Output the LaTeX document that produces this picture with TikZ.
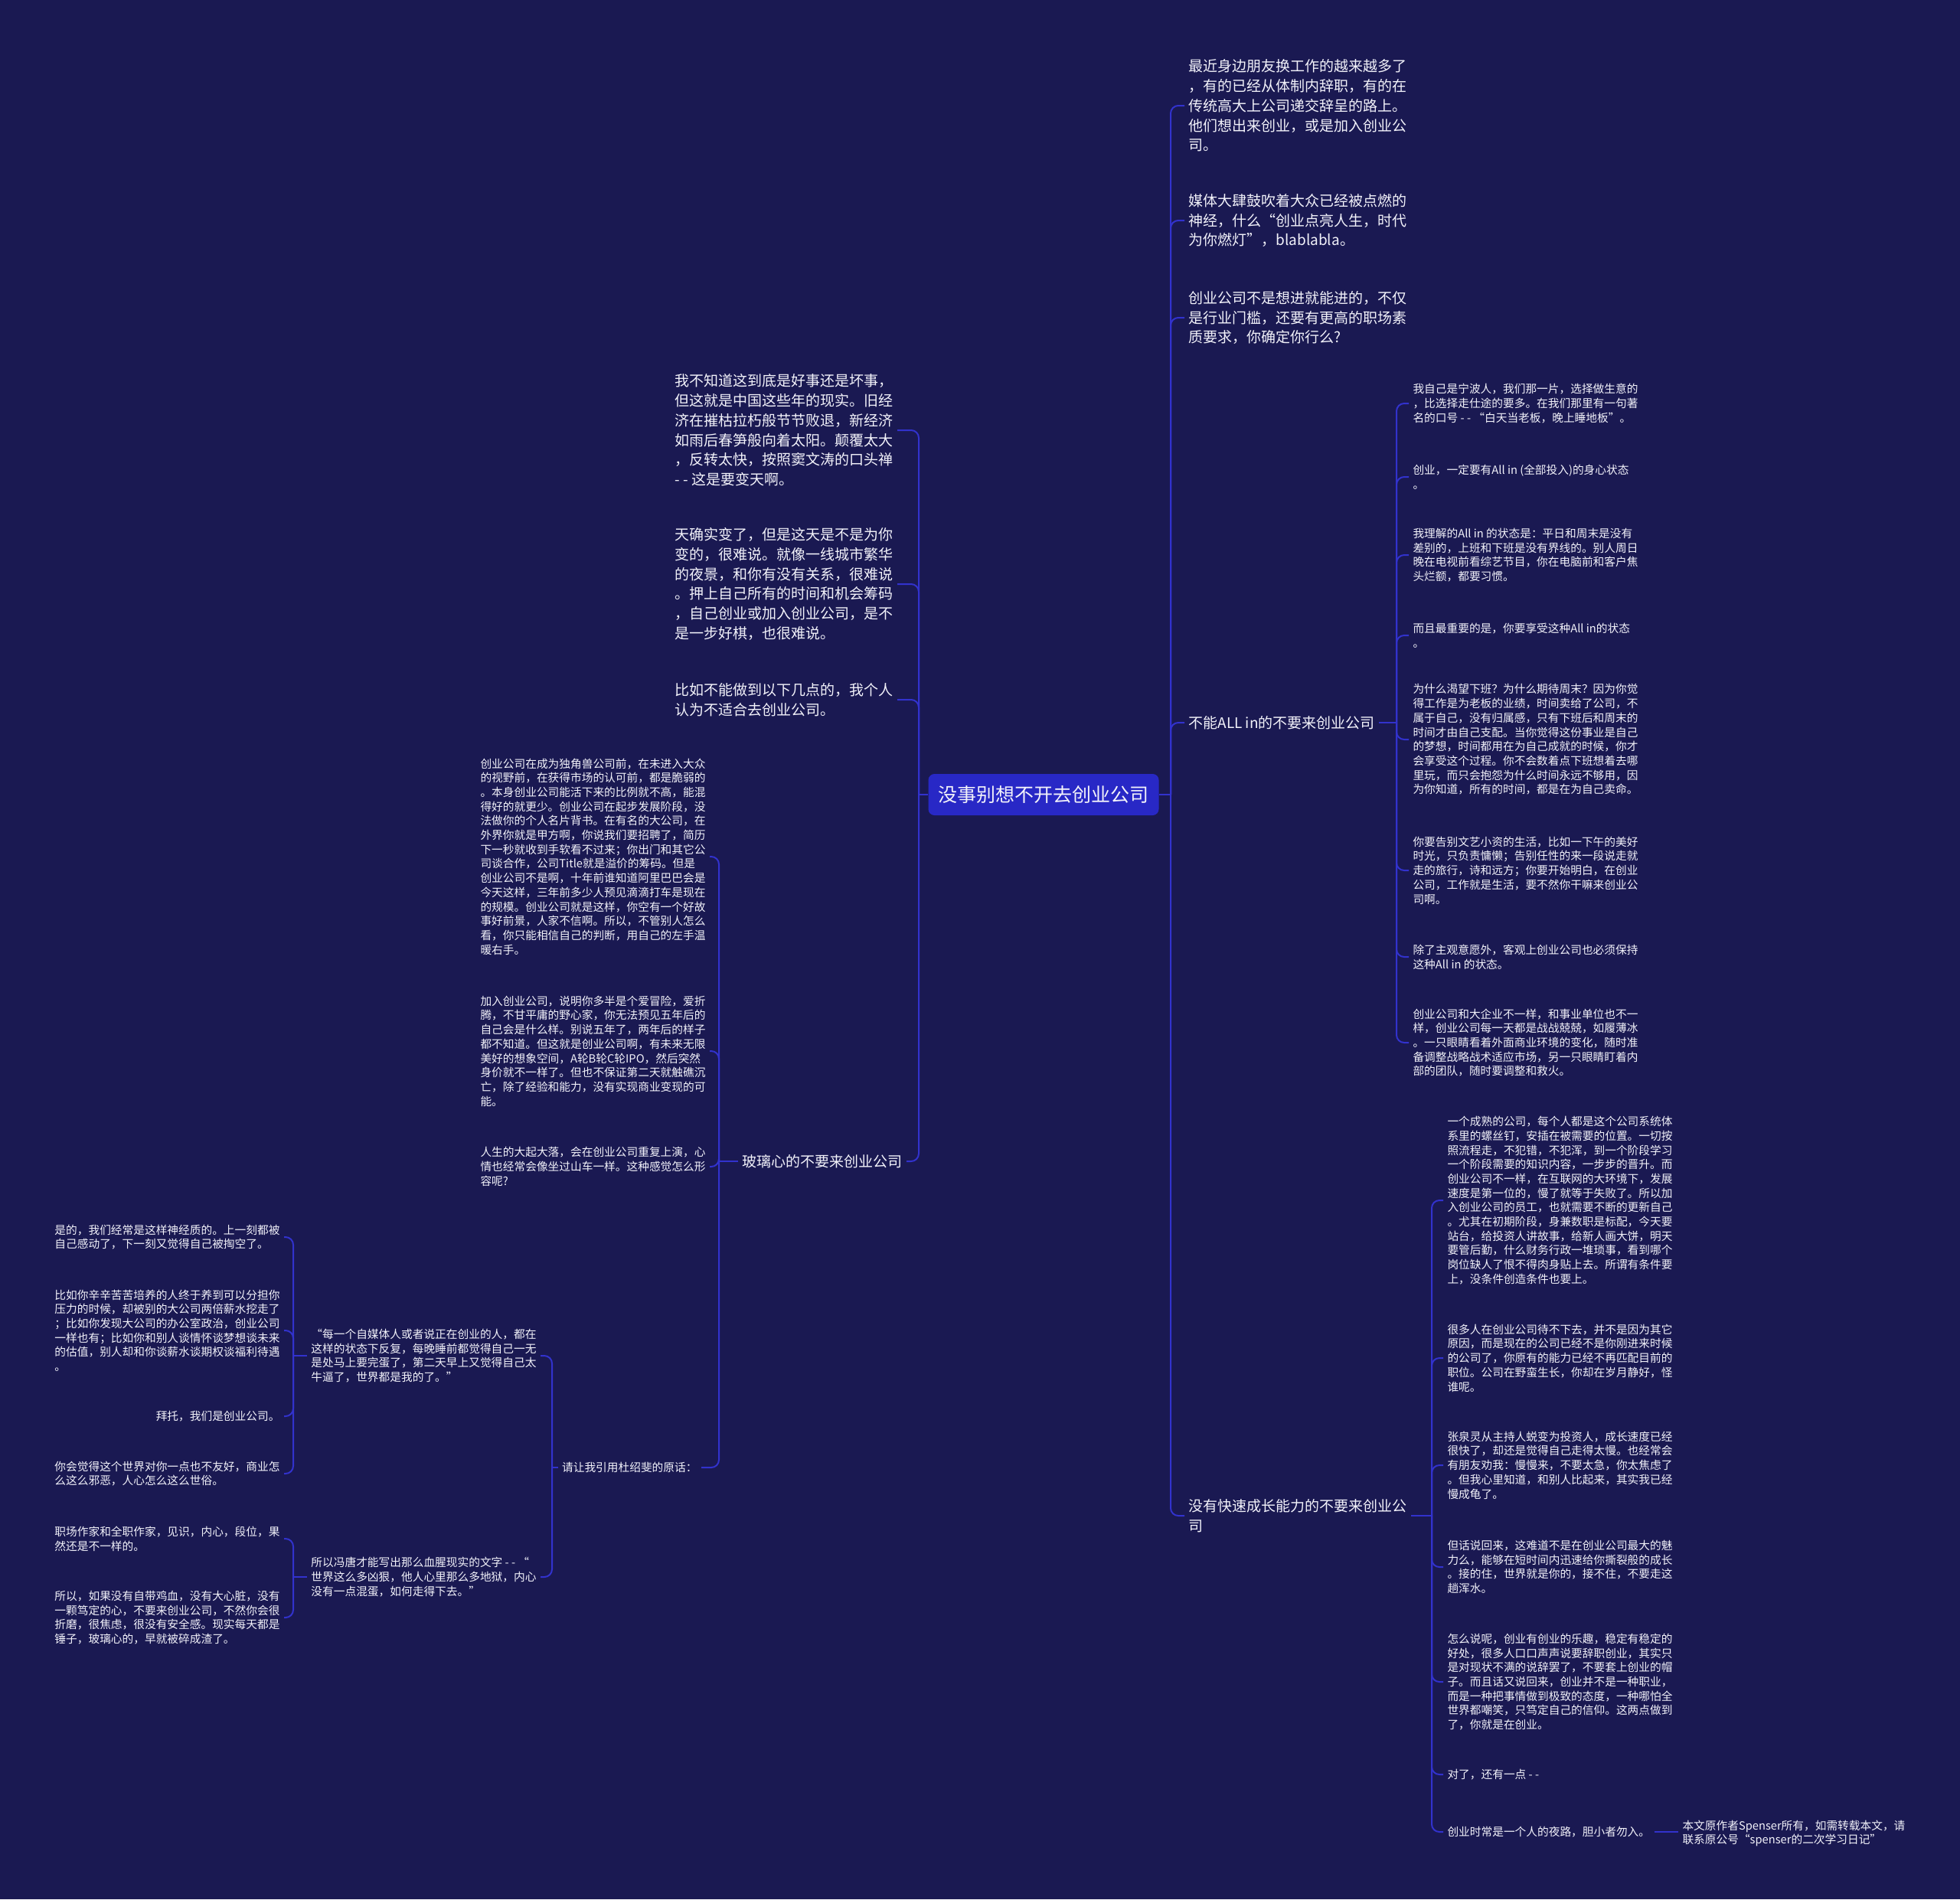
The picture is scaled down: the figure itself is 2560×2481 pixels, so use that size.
\documentclass[tikz,border=0pt]{standalone}
\usepackage{fontspec}
\setmainfont{Noto Sans CJK SC}
\usepackage{xcolor}
\definecolor{mapNight}{RGB}{26,25,82}
\definecolor{mapLine}{RGB}{50,50,205}
\definecolor{mapRoot}{RGB}{40,40,198}
\definecolor{mapText}{RGB}{242,242,250}

\begin{document}
\begin{tikzpicture}[x=0.4pt,y=-0.4pt,
  rootbox/.style={fill=mapRoot,text=mapText,rounded corners=3.2pt,minimum width=120.4pt,minimum height=21.6pt,inner sep=0pt,font=\fontsize{10}{12}\selectfont},
  bigtext/.style={text=mapText,align=left,inner xsep=2pt,inner ysep=1pt,font=\fontsize{7.6}{10.3}\selectfont},
  smalltext/.style={text=mapText,align=left,inner xsep=2pt,inner ysep=1pt,font=\fontsize{5.88}{7.48}\selectfont},
  link/.style={draw=mapLine,line width=0.8pt,rounded corners=4pt}]
\fill[mapNight] (0,0) rectangle (2560,2481);

% centre
\node[rootbox] (root) at (1363,1038) {没事别想不开去创业公司};
\coordinate (rbus) at (1529,1038);
\coordinate (lbus) at (1200,1038);

% right branches
\node[bigtext,anchor=west] (r1) at (1547,138) {最近身边朋友换工作的越来越多了\\，有的已经从体制内辞职，有的在\\传统高大上公司递交辞呈的路上。\\他们想出来创业，或是加入创业公\\司。};
\node[bigtext,anchor=west] (r2) at (1547,288) {媒体大肆鼓吹着大众已经被点燃的\\神经，什么“创业点亮人生，时代\\为你燃灯”，blablabla。};
\node[bigtext,anchor=west] (r3) at (1547,415) {创业公司不是想进就能进的，不仅\\是行业门槛，还要有更高的职场素\\质要求，你确定你行么?};
\node[bigtext,anchor=west] (r4) at (1547,944) {不能ALL in的不要来创业公司};
\node[bigtext,anchor=west] (r5) at (1547,1980) {没有快速成长能力的不要来创业公\\司};

% all in
\coordinate (r4bus) at (1824,944);
\node[smalltext,anchor=west] (a1) at (1840,527) {我自己是宁波人，我们那一片，选择做生意的\\，比选择走仕途的要多。在我们那里有一句著\\名的口号 - - “白天当老板，晚上睡地板”。};
\node[smalltext,anchor=west] (a2) at (1840,623) {创业，一定要有All in (全部投入)的身心状态\\。};
\node[smalltext,anchor=west] (a3) at (1840,725) {我理解的All in 的状态是：平日和周末是没有\\差别的，上班和下班是没有界线的。别人周日\\晚在电视前看综艺节目，你在电脑前和客户焦\\头烂额，都要习惯。};
\node[smalltext,anchor=west] (a4) at (1840,830) {而且最重要的是，你要享受这种All in的状态\\。};
\node[smalltext,anchor=west] (a5) at (1840,966) {为什么渴望下班？为什么期待周末？因为你觉\\得工作是为老板的业绩，时间卖给了公司，不\\属于自己，没有归属感，只有下班后和周末的\\时间才由自己支配。当你觉得这份事业是自己\\的梦想，时间都用在为自己成就的时候，你才\\会享受这个过程。你不会数着点下班想着去哪\\里玩，而只会抱怨为什么时间永远不够用，因\\为你知道，所有的时间，都是在为自己卖命。};
\node[smalltext,anchor=west] (a6) at (1840,1137) {你要告别文艺小资的生活，比如一下午的美好\\时光，只负责慵懒；告别任性的来一段说走就\\走的旅行，诗和远方；你要开始明白，在创业\\公司，工作就是生活，要不然你干嘛来创业公\\司啊。};
\node[smalltext,anchor=west] (a7) at (1840,1250) {除了主观意愿外，客观上创业公司也必须保持\\这种All in 的状态。};
\node[smalltext,anchor=west] (a8) at (1840,1362) {创业公司和大企业不一样，和事业单位也不一\\样，创业公司每一天都是战战兢兢，如履薄冰\\。一只眼睛看着外面商业环境的变化，随时准\\备调整战略战术适应市场，另一只眼睛盯着内\\部的团队，随时要调整和救火。};

% growth
\coordinate (r5bus) at (1870,1980);
\node[smalltext,anchor=west] (i1) at (1885,1568) {一个成熟的公司，每个人都是这个公司系统体\\系里的螺丝钉，安插在被需要的位置。一切按\\照流程走，不犯错，不犯浑，到一个阶段学习\\一个阶段需要的知识内容，一步步的晋升。而\\创业公司不一样，在互联网的大环境下，发展\\速度是第一位的，慢了就等于失败了。所以加\\入创业公司的员工，也就需要不断的更新自己\\。尤其在初期阶段，身兼数职是标配，今天要\\站台，给投资人讲故事，给新人画大饼，明天\\要管后勤，什么财务行政一堆琐事，看到哪个\\岗位缺人了恨不得肉身贴上去。所谓有条件要\\上，没条件创造条件也要上。};
\node[smalltext,anchor=west] (i2) at (1885,1774) {很多人在创业公司待不下去，并不是因为其它\\原因，而是现在的公司已经不是你刚进来时候\\的公司了，你原有的能力已经不再匹配目前的\\职位。公司在野蛮生长，你却在岁月静好，怪\\谁呢。};
\node[smalltext,anchor=west] (i3) at (1885,1914) {张泉灵从主持人蜕变为投资人，成长速度已经\\很快了，却还是觉得自己走得太慢。也经常会\\有朋友劝我：慢慢来，不要太急，你太焦虑了\\。但我心里知道，和别人比起来，其实我已经\\慢成龟了。};
\node[smalltext,anchor=west] (i4) at (1885,2047) {但话说回来，这难道不是在创业公司最大的魅\\力么，能够在短时间内迅速给你撕裂般的成长\\。接的住，世界就是你的，接不住，不要走这\\趟浑水。};
\node[smalltext,anchor=west] (i5) at (1885,2197) {怎么说呢，创业有创业的乐趣，稳定有稳定的\\好处，很多人口口声声说要辞职创业，其实只\\是对现状不满的说辞罢了，不要套上创业的帽\\子。而且话又说回来，创业并不是一种职业，\\而是一种把事情做到极致的态度，一种哪怕全\\世界都嘲笑，只笃定自己的信仰。这两点做到\\了，你就是在创业。};
\node[smalltext,anchor=west] (i6) at (1885,2318) {对了，还有一点 - -};
\node[smalltext,anchor=west] (i7) at (1885,2393) {创业时常是一个人的夜路，胆小者勿入。};
\node[smalltext,anchor=west] (note) at (2192,2395) {本文原作者Spenser所有，如需转载本文，请\\联系原公号“spenser的二次学习日记”};

% left branches
\node[bigtext,anchor=east] (l1) at (1172,562) {我不知道这到底是好事还是坏事，\\但这就是中国这些年的现实。旧经\\济在摧枯拉朽般节节败退，新经济\\如雨后春笋般向着太阳。颠覆太大\\，反转太快，按照窦文涛的口头禅\\ - - 这是要变天啊。};
\node[bigtext,anchor=east] (l2) at (1172,763) {天确实变了，但是这天是不是为你\\变的，很难说。就像一线城市繁华\\的夜景，和你有没有关系，很难说\\。押上自己所有的时间和机会筹码\\，自己创业或加入创业公司，是不\\是一步好棋，也很难说。};
\node[bigtext,anchor=east] (l3) at (1172,914) {比如不能做到以下几点的，我个人\\认为不适合去创业公司。};
\node[bigtext,anchor=east] (l4) at (1184,1517) {玻璃心的不要来创业公司};

% glass heart
\coordinate (l4bus) at (939,1517);
\node[smalltext,anchor=east] (g1) at (927,1119) {创业公司在成为独角兽公司前，在未进入大众\\的视野前，在获得市场的认可前，都是脆弱的\\。本身创业公司能活下来的比例就不高，能混\\得好的就更少。创业公司在起步发展阶段，没\\法做你的个人名片背书。在有名的大公司，在\\外界你就是甲方啊，你说我们要招聘了，简历\\下一秒就收到手软看不过来；你出门和其它公\\司谈合作，公司Title就是溢价的筹码。但是\\创业公司不是啊，十年前谁知道阿里巴巴会是\\今天这样，三年前多少人预见滴滴打车是现在\\的规模。创业公司就是这样，你空有一个好故\\事好前景，人家不信啊。所以，不管别人怎么\\看，你只能相信自己的判断，用自己的左手温\\暖右手。};
\node[smalltext,anchor=east] (g2) at (927,1373) {加入创业公司，说明你多半是个爱冒险，爱折\\腾，不甘平庸的野心家，你无法预见五年后的\\自己会是什么样。别说五年了，两年后的样子\\都不知道。但这就是创业公司啊，有未来无限\\美好的想象空间，A轮B轮C轮IPO，然后突然\\身价就不一样了。但也不保证第二天就触礁沉\\亡，除了经验和能力，没有实现商业变现的可\\能。};
\node[smalltext,anchor=east] (g3) at (927,1524) {人生的大起大落，会在创业公司重复上演，心\\情也经常会像坐过山车一样。这种感觉怎么形\\容呢?};
\node[smalltext,anchor=east] (g4) at (916,1917) {请让我引用杜绍斐的原话：};

% quote
\coordinate (g4bus) at (721,1917);
\node[smalltext,anchor=east] (q1) at (706,1771) {“每一个自媒体人或者说正在创业的人，都在\\这样的状态下反复，每晚睡前都觉得自己一无\\是处马上要完蛋了，第二天早上又觉得自己太\\牛逼了，世界都是我的了。”};
\node[smalltext,anchor=east] (q2) at (706,2060) {所以冯唐才能写出那么血腥现实的文字 - - “\\世界这么多凶狠，他人心里那么多地狱，内心\\没有一点混蛋，如何走得下去。”};
\coordinate (q1bus) at (383,1771);
\coordinate (q2bus) at (383,2060);
\node[smalltext,anchor=east] (k1) at (371,1616) {是的，我们经常是这样神经质的。上一刻都被\\自己感动了，下一刻又觉得自己被掏空了。};
\node[smalltext,anchor=east] (k2) at (371,1738) {比如你辛辛苦苦培养的人终于养到可以分担你\\压力的时候，却被别的大公司两倍薪水挖走了\\；比如你发现大公司的办公室政治，创业公司\\一样也有；比如你和别人谈情怀谈梦想谈未来\\的估值，别人却和你谈薪水谈期权谈福利待遇\\。};
\node[smalltext,anchor=east] (k3) at (371,1850) {拜托，我们是创业公司。};
\node[smalltext,anchor=east] (k4) at (371,1925) {你会觉得这个世界对你一点也不友好，商业怎\\么这么邪恶，人心怎么这么世俗。};
\node[smalltext,anchor=east] (k5) at (371,2010) {职场作家和全职作家，见识，内心，段位，果\\然还是不一样的。};
\node[smalltext,anchor=east] (k6) at (371,2113) {所以，如果没有自带鸡血，没有大心脏，没有\\一颗笃定的心，不要来创业公司，不然你会很\\折磨，很焦虑，很没有安全感。现实每天都是\\锤子，玻璃心的，早就被碎成渣了。};

% connectors
\draw[link] (root.east) -- (rbus);
\draw[link] (root.west) -- (lbus);
\foreach \kid in {r1,r2,r3,r4,r5} \draw[link] (rbus) |- (\kid.west);
\foreach \kid in {l1,l2,l3,l4} \draw[link] (lbus) |- (\kid.east);
\draw[link] (r4.east) -- (r4bus);
\foreach \kid in {a1,a2,a3,a4,a5,a6,a7,a8} \draw[link] (r4bus) |- (\kid.west);
\draw[link] (r5.east) -- (r5bus);
\foreach \kid in {i1,i2,i3,i4,i5,i6,i7} \draw[link] (r5bus) |- (\kid.west);
\draw[link] (i7.east) -- (i7.east -| note.west);
\draw[link] (l4.west) -- (l4bus);
\foreach \kid in {g1,g2,g3,g4} \draw[link] (l4bus) |- (\kid.east);
\draw[link] (g4.west) -- (g4bus);
\foreach \kid in {q1,q2} \draw[link] (g4bus) |- (\kid.east);
\draw[link] (q1.west) -- (q1bus);
\foreach \kid in {k1,k2,k3,k4} \draw[link] (q1bus) |- (\kid.east);
\draw[link] (q2.west) -- (q2bus);
\foreach \kid in {k5,k6} \draw[link] (q2bus) |- (\kid.east);
\end{tikzpicture}
\end{document}
